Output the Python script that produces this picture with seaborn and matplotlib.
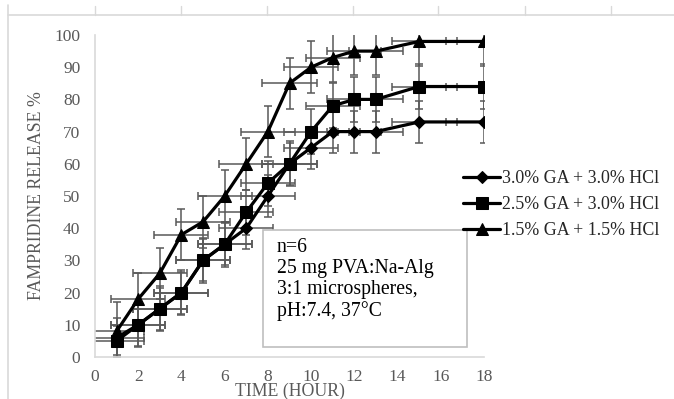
import matplotlib
matplotlib.use("Agg")
import matplotlib.pyplot as plt
import seaborn as sns
from matplotlib.lines import Line2D
from matplotlib.patches import Rectangle

hours = [1, 2, 3, 4, 5, 6, 7, 8, 9, 10, 11, 12, 13, 15, 18]

series_names = ["3.0% GA + 3.0% HCl", "2.5% GA + 3.0% HCl", "1.5% GA + 1.5% HCl"]
release_30 = [6, 10, 15, 20, 30, 35, 40, 50, 60, 65, 70, 70, 70, 73, 73]
release_25 = [5, 10, 15, 20, 30, 35, 45, 54, 60, 70, 78, 80, 80, 84, 84]
release_15 = [8, 18, 26, 38, 42, 50, 60, 70, 85, 90, 93, 95, 95, 98, 98]
err_30 = [6, 6.5, 6.5, 6.5, 6.5, 6.5, 6.5, 6.5, 6.5, 6.5, 6.5, 6.5, 6.5, 6.5, 6.5]
err_25 = [4.5, 7, 7, 7, 7, 7, 7, 7, 7, 7, 7, 7, 7, 7, 7]
err_15 = [9, 8, 8, 8, 8, 8, 8, 8, 8, 8, 7.5, 7.5, 7.5, 7.5, 7.5]
time_err = [1.25] * 15

xticks = [0, 2, 4, 6, 8, 10, 12, 14, 16, 18]
yticks = [0, 10, 20, 30, 40, 50, 60, 70, 80, 90, 100]
note = "n=6\n25 mg PVA:Na-Alg\n3:1 microspheres,\npH:7.4, 37°C"

sns.set_style("white")
plt.rcParams["font.family"] = ["Liberation Serif", "DejaVu Serif"]

W, H = 674, 399
fig = plt.figure(figsize=(W / 100, H / 100), dpi=100)
ax = fig.add_axes([95 / W, (H - 357) / H, (484 - 95) / W, (357 - 35) / H])

grey = "#595959"
values = [release_30, release_25, release_15]
errors = [err_30, err_25, err_15]
markers = ["D", "s", "^"]
msizes = [6.5, 8.5, 9]

# error bars first (behind the lines)
for vals, errs in zip(values, errors):
    ax.errorbar(hours, vals, yerr=errs, xerr=time_err, fmt="none",
                ecolor=grey, elinewidth=1.1, capsize=3, capthick=1.1, zorder=1)

for name, vals, m, ms in zip(series_names, values, markers, msizes):
    sns.lineplot(x=hours, y=vals, ax=ax, color="black", linewidth=2.3,
                 marker=m, markersize=ms, markeredgecolor="black",
                 label=name, zorder=3)

ax.set_xlim(0, 18)
ax.set_ylim(0, 100)
ax.set_xticks(xticks)
ax.set_yticks(yticks)
ax.tick_params(axis="both", length=0, labelsize=12.5, colors=grey)
ax.tick_params(axis="y", pad=10.5)
ax.tick_params(axis="x", pad=8.5)
for s in ["top", "right"]:
    ax.spines[s].set_visible(False)
for s in ["left", "bottom"]:
    ax.spines[s].set_color("#d9d9d9")
    ax.spines[s].set_linewidth(1.2)

ax.set_xlabel("TIME (HOUR)", fontsize=12.8, color=grey)
ax.set_ylabel("FAMPRIDINE RELEASE %", fontsize=12.8, color=grey)
ax.xaxis.set_label_coords(0.5, -0.08)
ax.yaxis.set_label_coords(-0.128, 0.5)

leg = ax.legend(loc="upper left", bbox_to_anchor=(463 / W, (H - 170) / H),
                bbox_transform=fig.transFigure, frameon=False, fontsize=12.9,
                borderpad=0, borderaxespad=0, handlelength=2.07,
                handletextpad=0.1, labelspacing=0.5)
leg.set_zorder(10)

# annotation box (in front of the data, behind the legend)
ax.add_patch(Rectangle((263 / W, (H - 347) / H), 204 / W, 117 / H,
                       transform=fig.transFigure, facecolor="white",
                       edgecolor="#bfbfbf", linewidth=1.2, zorder=5,
                       clip_on=False))
ax.text(277 / W, (H - 238) / H, note, transform=fig.transFigure,
        fontsize=14.2, va="top", ha="left", linespacing=1.14,
        color="black", zorder=6)

# worksheet border lines around the chart
border = "#d9d9d9"
fig.add_artist(Line2D([8 / W, 1], [(H - 15) / H] * 2, color=border, lw=1.2))
fig.add_artist(Line2D([8 / W] * 2, [0, (H - 5) / H], color=border, lw=1.2))
for px in [95, 181, 267, 353, 438, 525, 611]:
    fig.add_artist(Line2D([px / W] * 2, [(H - 15) / H, (H - 6) / H],
                          color=border, lw=1.0))

plt.savefig("out.png", dpi=100)
